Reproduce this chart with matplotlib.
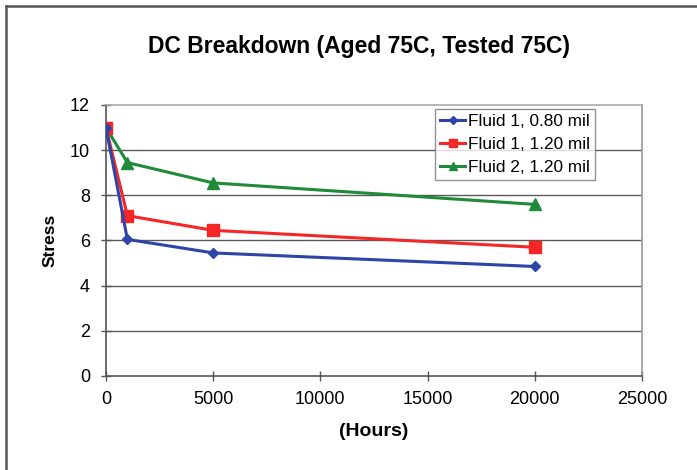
import matplotlib
matplotlib.use('Agg')
import matplotlib.pyplot as plt
from matplotlib.lines import Line2D

plt.rcParams['font.family'] = ['Liberation Sans', 'DejaVu Sans']

# ── data ──────────────────────────────────────────────────────────────────
hours = [0, 1000, 5000, 20000]
fluid1_080 = [11.0, 6.05, 5.45, 4.85]
fluid1_120 = [11.0, 7.1, 6.45, 5.7]
fluid2_120 = [11.0, 9.45, 8.55, 7.6]

labels = ['Fluid 1, 0.80 mil', 'Fluid 1, 1.20 mil', 'Fluid 2, 1.20 mil']
x_ticks = [0, 5000, 10000, 15000, 20000, 25000]
y_ticks = [0, 2, 4, 6, 8, 10, 12]

fig = plt.figure(figsize=(6.97, 4.70), dpi=100)
ax = fig.add_axes([0.152, 0.2, 0.769, 0.5766])

ax.plot(hours, fluid1_080, color='#2E45A8', lw=2.2, marker='D', ms=5.5,
        label=labels[0], zorder=5)
ax.plot(hours, fluid1_120, color='#F42626', lw=2.2, marker='s', ms=8,
        label=labels[1], zorder=4)
ax.plot(hours, fluid2_120, color='#1F8A3A', lw=2.2, marker='^', ms=8,
        label=labels[2], zorder=3)

ax.set_xlim(0, 25000)
ax.set_ylim(0, 12)
ax.set_xticks(x_ticks)
ax.set_yticks(y_ticks)
ax.tick_params(axis='both', labelsize=13, direction='inout', length=7,
               width=1, color='#555555')
ax.tick_params(axis='x', pad=7)
ax.tick_params(axis='y', pad=8)
for y in y_ticks[1:-1]:
    ax.axhline(y, color='#5a5a5a', lw=1.0, zorder=1)

ax.spines['left'].set_color('#555555')
ax.spines['bottom'].set_color('#555555')
ax.spines['top'].set_color('#aaaaaa')
ax.spines['right'].set_color('#999999')
for s in ax.spines.values():
    s.set_linewidth(1.2)

fig.text(0.515, 0.901, 'DC Breakdown (Aged 75C, Tested 75C)', fontsize=16.5,
         fontweight='bold', ha='center', va='center')
ax.set_ylabel('Stress', fontsize=12.5, fontweight='bold', labelpad=9)
ax.set_xlabel('(Hours)', fontsize=14, fontweight='bold', labelpad=11)

leg = ax.legend(loc='upper right', bbox_to_anchor=(0.912, 0.985), fontsize=12.4,
                frameon=True, fancybox=False, edgecolor='#777777',
                handlelength=1.45, handletextpad=0.15, borderpad=0.3,
                labelspacing=0.45, borderaxespad=0)
leg.get_frame().set_linewidth(1.0)
for h, ms in zip(leg.legend_handles, [4.5, 6, 6]):
    h.set_markersize(ms)

# outer chart border (left and top edges visible)
fig.add_artist(Line2D([0.009, 0.009], [0.0, 0.987], color='#555555', lw=1.8,
                      transform=fig.transFigure))
fig.add_artist(Line2D([0.009, 1.0], [0.987, 0.987], color='#555555', lw=1.8,
                      transform=fig.transFigure))

fig.savefig('out.png', dpi=100)
